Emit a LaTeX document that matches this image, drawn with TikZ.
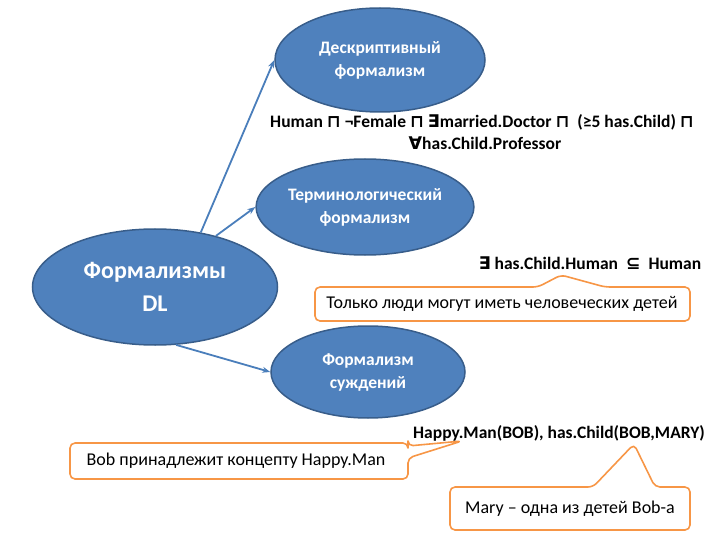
\documentclass[tikz,border=0pt]{standalone}
\usepackage{fontspec}
\setmainfont{Carlito}
\newfontfamily\symf{DejaVu Sans}
\usetikzlibrary{shapes.geometric,arrows.meta}
\tikzset{
 blob/.style={ellipse,fill={rgb,255:red,79;green,129;blue,189},draw={rgb,255:red,56;green,93;blue,138},line width=1.5pt,text=white,font=\bfseries,align=center,inner sep=0pt},
 arr/.style={-{Stealth[length=8pt]},draw={rgb,255:red,74;green,126;blue,187},line width=1.8pt},
 call/.style={draw={rgb,255:red,247;green,150;blue,70},line width=1.6pt,fill=white,rounded corners=5pt,line join=round},
 expr/.style={font=\bfseries,align=center,inner sep=0pt},
 ctext/.style={font=\fontsize{18}{20}\selectfont}
}
\begin{document}
\begin{tikzpicture}[x=1pt,y=-1pt]
\useasboundingbox (0,0) rectangle (720,540);
\node[blob,minimum width=210pt,minimum height=104pt,font=\bfseries\fontsize{17.5}{23}\selectfont] (top) at (380,60) {Дескриптивный\\формализм};
\node[blob,minimum width=214pt,minimum height=96pt,font=\bfseries\fontsize{17.5}{23}\selectfont] (term) at (365,207) {Терминологический\\формализм};
\node[blob,minimum width=245pt,minimum height=116pt,font=\bfseries\fontsize{24}{33}\selectfont] (dl) at (155,287) {Формализмы\\DL};
\node[blob,minimum width=194pt,minimum height=92pt,font=\bfseries\fontsize{17.5}{23}\selectfont] (ass) at (368,372) {Формализм\\суждений};
\draw[arr] (dl.50) -- (top.west);
\draw[arr] (dl.40) -- (term.west);
\draw[arr] (dl.-70) -- (ass.west);
\node[expr,font=\bfseries\fontsize{17.5}{20}\selectfont] (e1) at (482,122) {Human {\symf ⊓} ¬Female {\symf ⊓} {\symf ∃}married.Doctor {\symf ⊓}\ \ (≥5 has.Child) {\symf ⊓}};
\node[expr,font=\bfseries\fontsize{17.5}{20}\selectfont] (e2) at (485,143) {{\symf ∀}has.Child.Professor};
\node[expr,font=\bfseries\fontsize{17.5}{20}\selectfont] (e3) at (590,263) {{\symf ∃} has.Child.Human \ {\symf ⊆}\ \ Human};
\node[expr,font=\bfseries\fontsize{17.5}{20}\selectfont] (e4) at (559,433) {Happy.Man(BOB), has.Child(BOB,MARY)};
% callout 1
\draw[call] (315,287) -- (538,287) -- (561,275) -- (605,287) -- (690,287) -- (690,321) -- (315,321) -- cycle;
\node[ctext] (c1) at (502,304) {Только люди могут иметь человеческих детей};
% callout 2
\draw[call] (70,443) -- (408,443) -- (408,446) -- (462,441) -- (408,458) -- (408,479) -- (70,479) -- cycle;
\node[ctext] (c2) at (236,461) {Bob принадлежит концепту Happy.Man};
% callout 3
\draw[call] (450,487) -- (593,487) -- (634,444) -- (655,487) -- (690,487) -- (690,530) -- (450,530) -- cycle;
\node[ctext] (c3) at (570,509) {Mary – одна из детей Bob-а};
\end{tikzpicture}
\end{document}
